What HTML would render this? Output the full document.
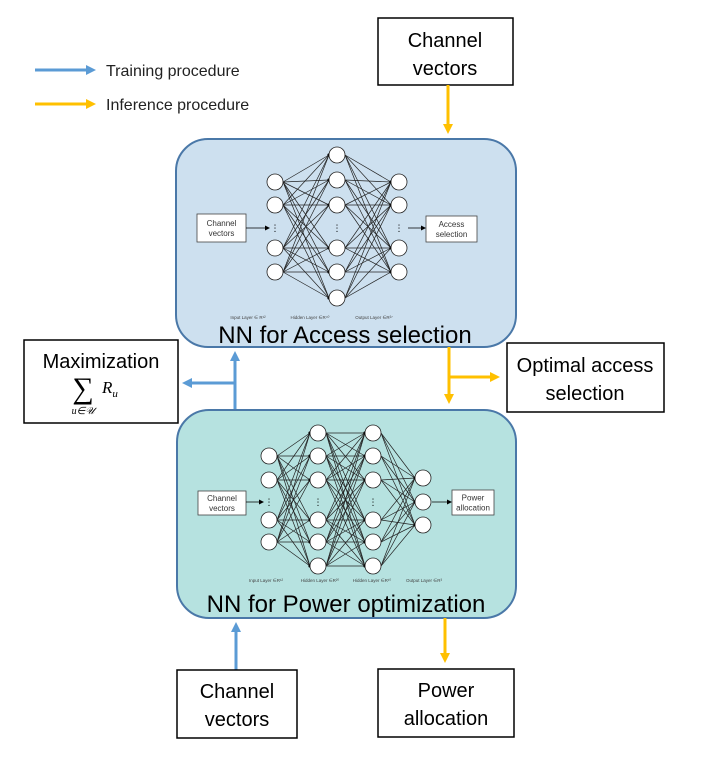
<!DOCTYPE html>
<html><head><meta charset="utf-8"><style>
html,body{margin:0;padding:0;background:#fff;}
svg{display:block;font-family:"Liberation Sans","DejaVu Sans",sans-serif;}
</style></head><body>
<svg id="s" width="706" height="757" viewBox="0 0 706 757" xmlns="http://www.w3.org/2000/svg">
<defs>
<marker id="ab" markerWidth="10" markerHeight="10" refX="6" refY="5" orient="auto" markerUnits="userSpaceOnUse"><path d="M0,0 L10,5 L0,10 z" fill="#5b9bd5"/></marker>
<marker id="ao" markerWidth="10" markerHeight="10" refX="6" refY="5" orient="auto" markerUnits="userSpaceOnUse"><path d="M0,0 L10,5 L0,10 z" fill="#ffc000"/></marker>
<marker id="ak" markerWidth="5" markerHeight="5" refX="4" refY="2.5" orient="auto" markerUnits="userSpaceOnUse"><path d="M0,0 L5,2.5 L0,5 z" fill="#000"/></marker>
</defs>
<!-- legend -->
<line x1="35" y1="70" x2="92" y2="70" stroke="#5b9bd5" stroke-width="3" marker-end="url(#ab)"/>
<text x="106" y="76" font-size="16" fill="#222">Training procedure</text>
<line x1="35" y1="104" x2="92" y2="104" stroke="#ffc000" stroke-width="3" marker-end="url(#ao)"/>
<text x="106" y="110" font-size="16" fill="#222">Inference procedure</text>

<rect x="378" y="18" width="135" height="67" fill="#fff" stroke="#000" stroke-width="1.5"/>
<text x="445" y="47" font-size="20" text-anchor="middle">Channel</text>
<text x="445" y="75" font-size="20" text-anchor="middle">vectors</text>
<line x1="448" y1="85" x2="448" y2="130" stroke="#ffc000" stroke-width="3" marker-end="url(#ao)"/>

<rect x="176" y="139" width="340" height="208" rx="32" fill="#cde0ef" stroke="#4a78a8" stroke-width="2"/>
<g id="nn1"></g>
<text x="345" y="343" font-size="24" text-anchor="middle">NN for Access selection</text>

<line x1="235" y1="410" x2="235" y2="355" stroke="#5b9bd5" stroke-width="3" marker-end="url(#ab)"/>
<line x1="235" y1="383" x2="186" y2="383" stroke="#5b9bd5" stroke-width="3" marker-end="url(#ab)"/>
<rect x="24" y="340" width="154" height="83" fill="#fff" stroke="#000" stroke-width="1.5"/>
<text x="101" y="368" font-size="20" text-anchor="middle">Maximization</text>
<text x="83" y="398" font-size="30" text-anchor="middle" font-family="Liberation Serif,serif">∑</text>
<text x="102" y="393" font-size="17" font-style="italic" font-family="Liberation Serif,serif">R<tspan font-size="11" dy="4">u</tspan></text>
<text x="83" y="414" font-size="10" font-style="italic" text-anchor="middle" font-family="Liberation Serif,serif">u∈𝒰</text>

<line x1="449" y1="347" x2="449" y2="400" stroke="#ffc000" stroke-width="3" marker-end="url(#ao)"/>
<line x1="449" y1="377" x2="496" y2="377" stroke="#ffc000" stroke-width="3" marker-end="url(#ao)"/>
<rect x="507" y="343" width="157" height="69" fill="#fff" stroke="#000" stroke-width="1.5"/>
<text x="585" y="372" font-size="20" text-anchor="middle">Optimal access</text>
<text x="585" y="400" font-size="20" text-anchor="middle">selection</text>

<rect x="177" y="410" width="339" height="208" rx="32" fill="#b6e2e0" stroke="#4a78a8" stroke-width="2"/>
<g id="nn2"></g>
<text x="346" y="612" font-size="24" text-anchor="middle">NN for Power optimization</text>

<line x1="236" y1="670" x2="236" y2="626" stroke="#5b9bd5" stroke-width="3" marker-end="url(#ab)"/>
<rect x="177" y="670" width="120" height="68" fill="#fff" stroke="#000" stroke-width="1.5"/>
<text x="237" y="698" font-size="20" text-anchor="middle">Channel</text>
<text x="237" y="726" font-size="20" text-anchor="middle">vectors</text>
<line x1="445" y1="618" x2="445" y2="659" stroke="#ffc000" stroke-width="3" marker-end="url(#ao)"/>
<rect x="378" y="669" width="136" height="68" fill="#fff" stroke="#000" stroke-width="1.5"/>
<text x="446" y="697" font-size="20" text-anchor="middle">Power</text>
<text x="446" y="725" font-size="20" text-anchor="middle">allocation</text>
</svg>
<script>
var NS="http://www.w3.org/2000/svg";
function el(g,t,a,txt){var e=document.createElementNS(NS,t);for(var k in a)e.setAttribute(k,a[k]);if(txt)e.textContent=txt;g.appendChild(e);return e;}
function nn(id,layers,dots,r,inBox,outBox,labels,ly){
 var g=document.getElementById(id);
 for(var i=0;i<layers.length-1;i++){var A=layers[i],B=layers[i+1];
  A.ys.forEach(function(y1){B.ys.forEach(function(y2){el(g,"line",{x1:A.x+r,y1:y1,x2:B.x-r,y2:y2,stroke:"#222","stroke-width":0.7});});});
  B.ys.forEach(function(y2){el(g,"circle",{cx:B.x-r,cy:y2,r:1.6,fill:"#000"});});}
 layers.forEach(function(L){L.ys.forEach(function(y){el(g,"circle",{cx:L.x,cy:y,r:r,fill:"#fff",stroke:"#222","stroke-width":0.8});});
  if(!L.nodots) el(g,"text",{x:L.x,y:dots+3,"font-size":9,"text-anchor":"middle"},"⋮");});
 [inBox,outBox].forEach(function(b){el(g,"rect",{x:b.x,y:b.y,width:b.w,height:b.h,fill:"#fff",stroke:"#444","stroke-width":0.8});
  el(g,"text",{x:b.x+b.w/2,y:b.y+b.h/2-2,"font-size":8,"text-anchor":"middle",fill:"#333"},b.t[0]);
  el(g,"text",{x:b.x+b.w/2,y:b.y+b.h/2+8,"font-size":8,"text-anchor":"middle",fill:"#333"},b.t[1]);});
 el(g,"line",{x1:inBox.x+inBox.w,y1:dots,x2:layers[0].x-6,y2:dots,stroke:"#000","stroke-width":0.8,"marker-end":"url(#ak)"});
 var lx=layers[layers.length-1].x;
 el(g,"line",{x1:lx+9,y1:dots,x2:outBox.x-1,y2:dots,stroke:"#000","stroke-width":0.8,"marker-end":"url(#ak)"});
 labels.forEach(function(l){el(g,"text",{x:l[0],y:ly,"font-size":4.5,"text-anchor":"middle",fill:"#444"},l[1]);});
}
nn("nn1",[{x:275,ys:[182,205,248,272]},{x:337,ys:[155,180,205,248,272,298]},{x:399,ys:[182,205,248,272]}],228,8,
 {x:197,y:214,w:49,h:28,t:["Channel","vectors"]},{x:426,y:216,w:51,h:26,t:["Access","selection"]},
 [[248,"Input Layer ∈ R¹²"],[310,"Hidden Layer ∈R⁴⁰"],[374,"Output Layer ∈R²⁷"]],319);
nn("nn2",[{x:269,ys:[456,480,520,542]},{x:318,ys:[433,456,480,520,542,566]},{x:373,ys:[433,456,480,520,542,566]},{x:423,ys:[478,502,525],nodots:true}],502,8,
 {x:198,y:491,w:48,h:24,t:["Channel","vectors"]},{x:452,y:490,w:42,h:25,t:["Power","allocation"]},
 [[266,"Input Layer ∈R¹²"],[320,"Hidden Layer ∈R²⁰"],[372,"Hidden Layer ∈R¹⁰"],[424,"Output Layer ∈R³"]],582);
</script>
</body></html>
